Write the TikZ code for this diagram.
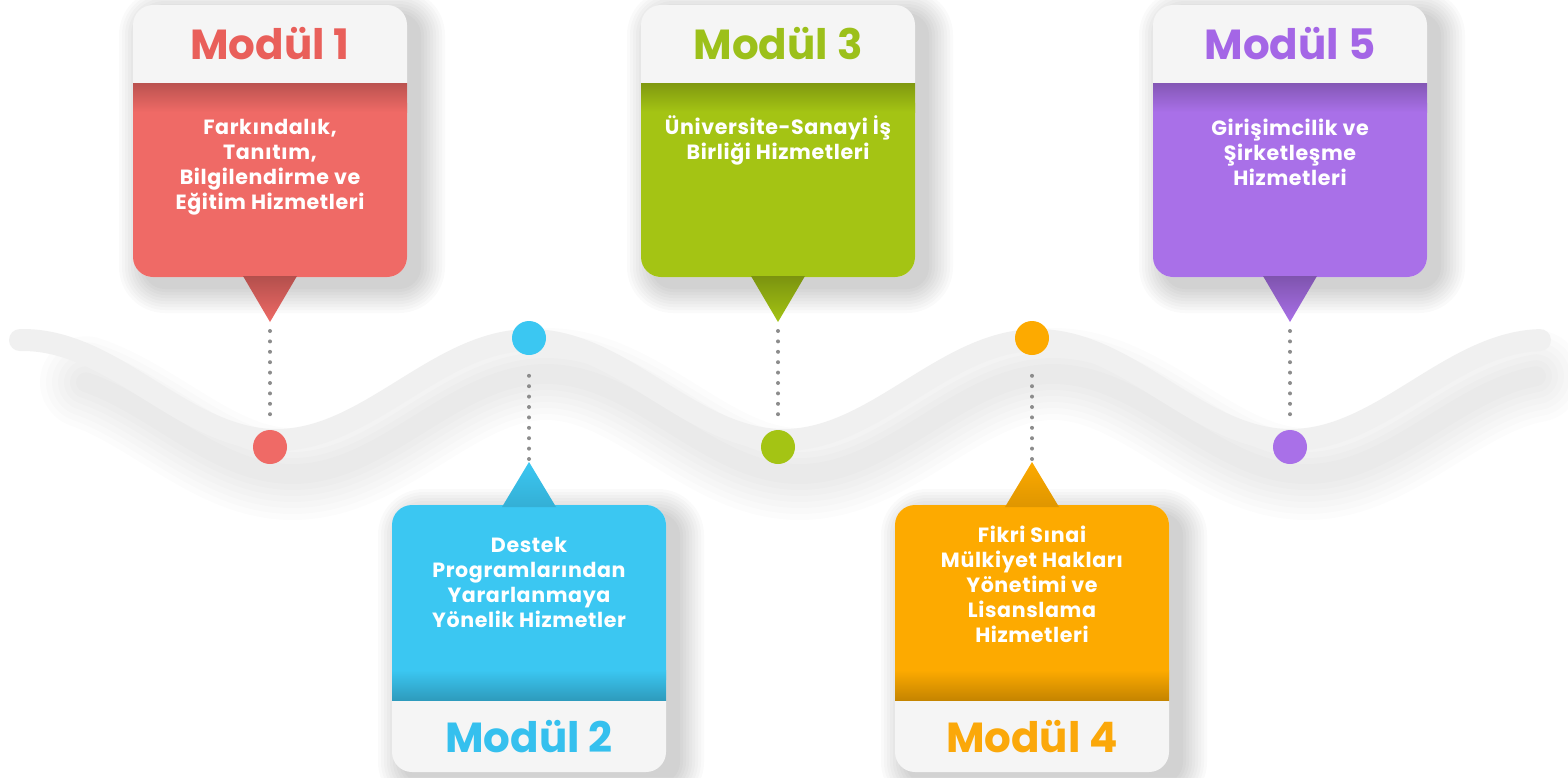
\documentclass[tikz,border=0pt]{standalone}
\usepackage{fontspec}
\setmainfont{Poppins}
\definecolor{mred}{HTML}{EF6A66}
\definecolor{tred}{HTML}{E95F5A}
\definecolor{mblue}{HTML}{3BC7F2}
\definecolor{tblue}{HTML}{35C0EE}
\definecolor{mgreen}{HTML}{A4C414}
\definecolor{tgreen}{HTML}{9CC01A}
\definecolor{morange}{HTML}{FDAA00}
\definecolor{torange}{HTML}{FBA80A}
\definecolor{mpurple}{HTML}{A970E8}
\definecolor{tpurple}{HTML}{A466E6}
\definecolor{hdr}{HTML}{F5F5F5}
\definecolor{band}{HTML}{F0F0F0}
\definecolor{dotgray}{HTML}{8C8C8C}
\tikzset{
  titletext/.style={inner sep=0pt, font=\fontsize{21}{24}\selectfont\bfseries},
  bodytext/.style={inner sep=0pt, align=center, text=white, font=\fontsize{10.3}{12.5}\selectfont\bfseries\addfontfeatures{LetterSpace=3}},
  marker/.style={circle, minimum size=17pt, inner sep=0pt},
  dotline/.style={draw=dotgray, line width=2pt, line cap=round, dash pattern=on 0pt off 5.2pt, shorten >=6pt},
}
% soft shadow behind a box: #1 x1, #2 y1, #3 x2, #4 y2 (pixels)
\newcommand{\softshadow}[4]{%
  \foreach \e in {26,23,...,2}{
    \fill[black, opacity=0.018, rounded corners={10pt+\e*0.5pt}]
      ({#1+12-\e},{#2+10-\e}) rectangle ({#3+12+\e},{#4+10+\e});
  }
}
% top module: #1 name, #2 centre x, #3 box colour, #4 title colour, #5 title, #6 body, #7 body top
\newcommand{\topmodule}[7]{%
  \softshadow{#2-137}{5}{#2+137}{277}
  \fill[hdr, rounded corners=10pt] ({#2-137},5) rectangle ({#2+137},277);
  \fill[#3, rounded corners=10pt] ({#2-137},83) rectangle ({#2+137},277);
  \shade[top color=#3!78!black, bottom color=#3] ({#2-137},83) rectangle ({#2+137},112);
  \shade[top color=#3!75!black, bottom color=#3] ({#2-27},276) -- ({#2+27},276) -- (#2,322) -- cycle;
  \node[titletext, text=#4] (#1t) at (#2,44) {#5};
  \node[bodytext, anchor=north] (#1b) at (#2,#7) {#6};
  \node[marker, fill=#3] (#1c) at (#2,447) {};
  \coordinate (#1p) at (#2,331);
  \path[dotline] (#1p) -- (#1c.north);
}
\newcommand{\botmodule}[7]{%
  \softshadow{#2-137}{505}{#2+137}{772}
  \fill[hdr, rounded corners=10pt] ({#2-137},505) rectangle ({#2+137},772);
  \fill[#3, rounded corners=10pt] ({#2-137},505) rectangle ({#2+137},700);
  \shade[top color=#3, bottom color=#3!78!black] ({#2-137},670) rectangle ({#2+137},700);
  \shade[top color=#3, bottom color=#3!88!black] ({#2-27},507) -- ({#2+27},507) -- (#2,462) -- cycle;
  \node[titletext, text=#4] (#1t) at (#2,737) {#5};
  \node[bodytext, anchor=north] (#1b) at (#2,#7) {#6};
  \node[marker, fill=#3] (#1c) at (#2,338) {};
  \coordinate (#1p) at (#2,459);
  \path[dotline] (#1p) -- (#1c.south);
}
\begin{document}
\begin{tikzpicture}[x=0.5pt, y=-0.5pt]
\useasboundingbox[fill=white] (0,0) rectangle (1568,777);
% wave shadow
\foreach \w in {46,40,...,10}{
  \draw[black, opacity=0.011, line width=\w pt, line cap=round, xshift=8pt, yshift=-17pt]
    plot[domain=70:1520, samples=160, smooth] (\x, {390-50*cos(0.71006*(\x-530))});
}
% wave band
\draw[band, line width=11pt, line cap=round]
  plot[domain=20:1540, samples=180, smooth] (\x, {390-50*cos(0.71006*(\x-530))});
\topmodule{m1}{270}{mred}{tred}{Modül 1}{Farkındalık,\\Tanıtım,\\Bilgilendirme ve\\Eğitim Hizmetleri}{119}
\topmodule{m3}{778}{mgreen}{tgreen}{Modül 3}{Üniversite-Sanayi İş\\Birliği Hizmetleri}{115}
\topmodule{m5}{1290}{mpurple}{tpurple}{Modül 5}{Girişimcilik ve\\Şirketleşme\\Hizmetleri}{119}
\botmodule{m2}{529}{mblue}{tblue}{Modül 2}{Destek\\Programlarından\\Yararlanmaya\\Yönelik Hizmetler}{537}
\botmodule{m4}{1032}{morange}{torange}{Modül 4}{Fikri Sınai\\Mülkiyet Hakları\\Yönetimi ve\\Lisanslama\\Hizmetleri}{526}
\end{tikzpicture}
\end{document}
